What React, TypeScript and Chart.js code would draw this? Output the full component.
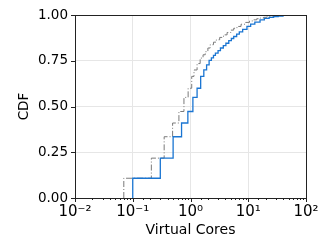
import { useEffect, useRef } from 'react';
import { Chart, registerables } from 'chart.js';

Chart.register(...registerables);

const xTickLabels = ['10⁻²', '10⁻¹', '10⁰', '10¹', '10²'];
const yTickValues = [0, 0.25, 0.5, 0.75, 1];

// Blue (solid) CDF
const blueX = [0.1, 0.1, 0.3, 0.5, 0.7, 0.9, 1.1, 1.3, 1.5, 1.7, 1.9, 2.1, 2.3, 2.5, 2.7, 3.0, 3.3, 3.7, 4.1, 4.6, 5.1, 5.6, 6.3, 7.0, 8.0, 9.5, 11, 13, 16, 19, 23, 27.5, 33, 40, 50, 65, 100];
const blueY = [0, 0.108, 0.218, 0.335, 0.41, 0.473, 0.55, 0.6, 0.665, 0.7, 0.728, 0.752, 0.766, 0.78, 0.792, 0.806, 0.82, 0.833, 0.846, 0.86, 0.872, 0.883, 0.896, 0.908, 0.922, 0.938, 0.951, 0.962, 0.974, 0.982, 0.988, 0.992, 0.995, 0.998, 0.9995, 1.0, 1.0];

// Gray (dash-dot) CDF
const grayX = [0.07, 0.07, 0.21, 0.35, 0.49, 0.63, 0.77, 0.91, 1.05, 1.15, 1.3, 1.47, 1.65, 1.8, 2.0, 2.19, 2.5, 2.8, 3.2, 3.73, 4.3, 5.0, 5.6, 6.37, 7.5, 9, 10.5, 12.4, 14, 16, 18.5, 21.1, 25, 30, 36, 100];
const grayY = [0, 0.108, 0.218, 0.335, 0.41, 0.473, 0.55, 0.6, 0.665, 0.7, 0.735, 0.765, 0.783, 0.8, 0.82, 0.838, 0.852, 0.865, 0.878, 0.892, 0.905, 0.918, 0.928, 0.938, 0.95, 0.96, 0.968, 0.974, 0.98, 0.984, 0.988, 0.992, 0.995, 0.998, 1.0, 1.0];

const isPow10 = (v: number) => {
  const e = Math.log10(v);
  return Math.abs(e - Math.round(e)) < 1e-9;
};

const frameAndTicks = {
  id: 'frameAndTicks',
  afterDraw(chart: any) {
    const { ctx, chartArea } = chart;
    const { left, top, right, bottom } = chartArea;
    const xs = chart.scales.x;
    const ys = chart.scales.y;
    ctx.save();
    ctx.strokeStyle = '#222';
    ctx.lineWidth = 1;
    ctx.beginPath();
    for (const t of xs.ticks) {
      const px = Math.round(xs.getPixelForValue(t.value)) + 0.5;
      const len = isPow10(t.value) ? 4 : 2;
      ctx.moveTo(px, bottom);
      ctx.lineTo(px, bottom + len);
    }
    for (const t of ys.ticks) {
      const py = Math.round(ys.getPixelForValue(t.value)) + 0.5;
      ctx.moveTo(left - 4, py);
      ctx.lineTo(left, py);
    }
    ctx.stroke();
    ctx.strokeRect(Math.round(left) + 0.5, Math.round(top) + 0.5, Math.round(right - left), Math.round(bottom - top));
    ctx.restore();
  },
};

export default function App() {
  const ref = useRef<HTMLCanvasElement | null>(null);
  useEffect(() => {
    if (!ref.current) return;
    const font = 'DejaVu Sans';
    const chart = new Chart(ref.current, {
      type: 'line',
      data: {
        datasets: [
          {
            data: blueX.map((x, i) => ({ x, y: blueY[i] })),
            borderColor: '#1a75d2',
            borderWidth: 1.3,
            pointRadius: 0,
            stepped: 'before',
            fill: false,
          },
          {
            data: grayX.map((x, i) => ({ x, y: grayY[i] })),
            borderColor: '#7a7a7a',
            borderWidth: 1,
            borderDash: [6, 2, 1, 2],
            pointRadius: 0,
            stepped: 'before',
            fill: false,
          },
        ],
      },
      options: {
        animation: false,
        responsive: false,
        devicePixelRatio: 1,
        layout: { padding: { top: 15, right: 28, left: 0, bottom: 0 } },
        plugins: { legend: { display: false }, tooltip: { enabled: false } },
        scales: {
          x: {
            type: 'logarithmic',
            min: 0.01,
            max: 100,
            border: { display: false },
            grid: {
              drawTicks: false,
              color: (c: any) => (c.tick && isPow10(c.tick.value) ? '#e6e6e6' : 'rgba(0,0,0,0)'),
            },
            ticks: {
              autoSkip: false,
              maxRotation: 0,
              padding: 5,
              color: '#000',
              font: { family: font, size: 15 },
              callback: (v: any) => {
                const n = Number(v);
                if (!isPow10(n)) return '';
                return xTickLabels[Math.round(Math.log10(n)) + 2];
              },
            },
            title: {
              display: true,
              text: 'Virtual Cores',
              color: '#000',
              font: { family: font, size: 14 },
              padding: { top: 0, bottom: 1 },
            },
            afterFit: (s: any) => {
              s.height = 42;
            },
          },
          y: {
            min: 0,
            max: 1,
            border: { display: false },
            afterBuildTicks: (s: any) => {
              s.ticks = yTickValues.map((v) => ({ value: v }));
            },
            grid: { drawTicks: false, color: '#e6e6e6' },
            ticks: {
              padding: 7,
              color: '#000',
              font: { family: font, size: 13.5 },
              callback: (v: any) => Number(v).toFixed(2),
            },
            title: {
              display: true,
              text: 'CDF',
              color: '#000',
              font: { family: font, size: 13.5 },
              padding: { top: 16, bottom: 0 },
            },
            afterFit: (s: any) => {
              s.width = 75;
            },
          },
        },
      },
      plugins: [frameAndTicks],
    });
    return () => chart.destroy();
  }, []);
  return (
    <div style={{ position: 'fixed', left: 0, top: 0, width: 334, height: 240, background: '#fff' }}>
      <canvas ref={ref} width={334} height={240} style={{ width: 334, height: 240, display: 'block' }} />
    </div>
  );
}
